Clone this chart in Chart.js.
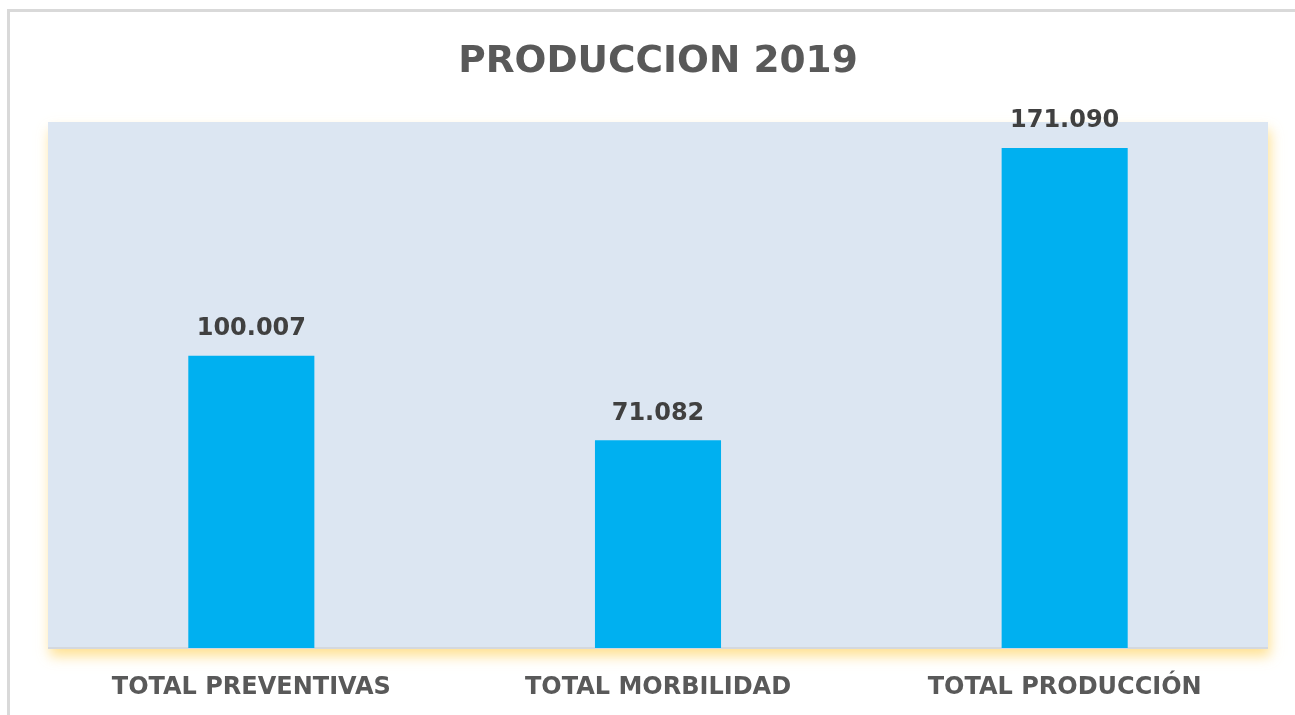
<!DOCTYPE html>
<html>
<head>
<meta charset="utf-8">
<script src="https://cdn.jsdelivr.net/npm/chart.js@4"></script>
<style>
    html, body { margin: 0; padding: 0; background: #ffffff; }
    #wrap { width: 1295px; height: 715px; position: relative; }
</style>
</head>
<body>
<div id="wrap"><canvas id="grafico" width="1295" height="715"></canvas></div>
<script>
var titulo = 'PRODUCCION 2019';
var categorias = ['TOTAL PREVENTIVAS', 'TOTAL MORBILIDAD', 'TOTAL PRODUCCIÓN'];
var valores = [100007, 71082, 171090];
var etiquetas = ['100.007', '71.082', '171.090'];

var fondo = {
    id: 'fondo',
    beforeDraw: function (chart) {
        var ctx = chart.ctx;
        var a = chart.chartArea;
        ctx.save();
        // marco gris arriba e izquierda
        ctx.fillStyle = '#d9d9d9';
        ctx.fillRect(7, 9, 1295 - 7, 3);
        ctx.fillRect(7, 9, 3, 715 - 9);
        // resplandor amarillo debajo del area
        ctx.shadowColor = 'rgba(255, 215, 110, 0.75)';
        ctx.shadowBlur = 12;
        ctx.shadowOffsetX = 2;
        ctx.shadowOffsetY = 8;
        ctx.fillStyle = '#dce6f2';
        ctx.fillRect(a.left, a.top, a.right - a.left, a.bottom - a.top);
        ctx.restore();
        ctx.save();
        ctx.fillStyle = '#dce6f2';
        ctx.fillRect(a.left, a.top, a.right - a.left, a.bottom - a.top);
        ctx.fillStyle = '#d4d8de';
        ctx.fillRect(a.left, a.bottom - 1, a.right - a.left, 2);
        // titulo
        ctx.fillStyle = '#595959';
        ctx.font = 'bold 37.5px "DejaVu Sans"';
        ctx.textAlign = 'center';
        ctx.textBaseline = 'middle';
        ctx.fillText(titulo, 658, 62);
        ctx.restore();
    },
    afterDatasetsDraw: function (chart) {
        var ctx = chart.ctx;
        var meta = chart.getDatasetMeta(0);
        ctx.save();
        ctx.fillStyle = '#404040';
        ctx.font = 'bold 24px "DejaVu Sans"';
        ctx.textAlign = 'center';
        ctx.textBaseline = 'middle';
        meta.data.forEach(function (bar, i) {
            ctx.fillText(etiquetas[i], bar.x, bar.y - 27);
        });
        ctx.restore();
    }
};

var ctx = document.getElementById('grafico').getContext('2d');
var miGrafico = new Chart(ctx, {
    type: 'bar',
    data: {
        labels: categorias,
        datasets: [{
            data: valores,
            backgroundColor: '#00b0f0',
            borderWidth: 0,
            barPercentage: 0.31,
            categoryPercentage: 1
        }]
    },
    options: {
        responsive: false,
        animation: false,
        layout: { padding: { left: 48, right: 27, top: 122, bottom: 0 } },
        plugins: {
            legend: { display: false },
            tooltip: { enabled: false },
            title: { display: false }
        },
        scales: {
            x: {
                grid: { display: false },
                border: { display: false },
                afterFit: function (scale) { scale.height = 67; },
                ticks: {
                    color: '#595959',
                    font: { family: 'DejaVu Sans', size: 24, weight: 'bold' },
                    padding: 17,
                    maxRotation: 0
                }
            },
            y: {
                display: false,
                min: 0,
                max: 180000
            }
        }
    },
    plugins: [fondo]
});
</script>
</body>
</html>
